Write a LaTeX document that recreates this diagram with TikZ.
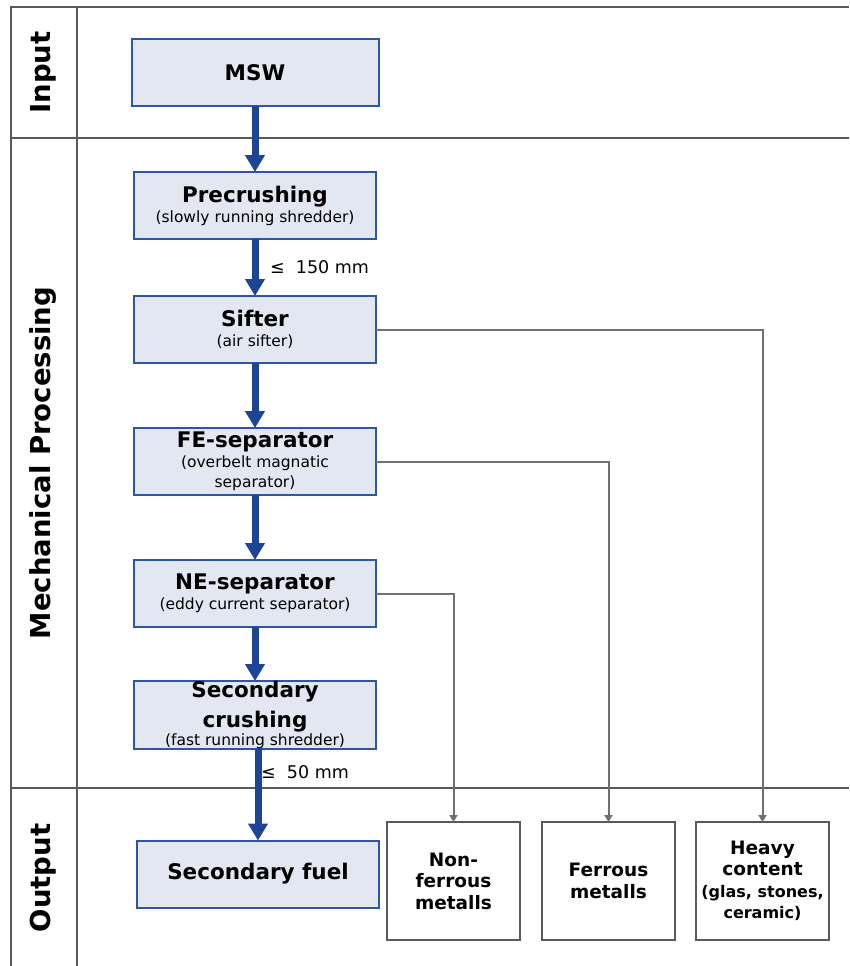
\documentclass[tikz,border=0pt]{standalone}
\usepackage{fontspec}
\setmainfont{DejaVu Sans}
\usetikzlibrary{arrows.meta, positioning, calc}

\definecolor{boxblue}{RGB}{47,85,165}
\definecolor{boxfill}{RGB}{226,231,242}
\definecolor{flowblue}{RGB}{30,68,150}
\definecolor{laneline}{RGB}{90,90,90}
\definecolor{sidegrey}{RGB}{112,112,112}

\newcommand{\stephead}[1]{{\fontsize{21.5}{24}\selectfont\bfseries #1}}
\newcommand{\prodsmall}{\fontsize{16}{20}\selectfont}

\tikzset{
  stage/.style={draw=boxblue, line width=2pt, fill=boxfill, minimum width=242pt,
    minimum height=67pt, inner xsep=1pt, inner ysep=0pt, outer sep=0pt, align=center,
    font=\fontsize{15.5}{20}\selectfont},
  product/.style={draw=laneline, line width=2pt, minimum width=133pt, minimum height=118pt,
    inner sep=2pt, outer sep=0pt, align=center, font=\fontsize{18.5}{21.5}\selectfont\bfseries},
  flow/.style={line width=7pt, draw=flowblue, -{Triangle[width=19pt,length=17pt]}},
  side/.style={line width=2pt, draw=sidegrey, -{Triangle[width=8pt,length=7pt]}},
  lane/.style={line width=2pt, draw=laneline},
  lanename/.style={rotate=90, font=\fontsize{27.5}{30}\selectfont\bfseries},
  sizenote/.style={inner sep=0pt, font=\fontsize{17.5}{19}\selectfont}
}

\begin{document}
\begin{tikzpicture}[x=1pt, y=-1pt]
\useasboundingbox (0,0) rectangle (849,966);

\draw[lane] (11,966) -- (11,7) -- (849,7);
\draw[lane] (77,7) -- (77,966);
\draw[lane] (11,138) -- (849,138);
\draw[lane] (11,788) -- (849,788);

\node[lanename] (lanein) at (43,72.5) {Input};
\node[lanename] (lanemech) at (43,463) {Mechanical Processing};
\node[lanename] (laneout) at (43,878) {Output};

\node[stage, minimum width=247pt] (msw) at (255,72.5) {\stephead{MSW}};
\node[stage, below=66pt of msw] (precrush) {\stephead{Precrushing}\\(slowly running shredder)};
\node[stage, below=57pt of precrush] (sifter) {\stephead{Sifter}\\(air sifter)};
\node[stage, below=65pt of sifter] (fesep) {\stephead{FE-separator}\\(overbelt magnatic\\separator)};
\node[stage, below=65pt of fesep] (nesep) {\stephead{NE-separator}\\(eddy current separator)};
\node[stage, below=54pt of nesep] (crush) {\stephead{Secondary}\\[8pt]\stephead{crushing}\\[-2pt](fast running shredder)};
\node[stage, below=92pt of crush, xshift=3pt] (fuel) {\stephead{Secondary fuel}};

\node[product] (nonfe) at (453.5,881) {Non-\\ferrous\\metalls};
\node[product, right=22pt of nonfe] (ferrous) {Ferrous\\metalls};
\node[product, right=21pt of ferrous] (heavy) {Heavy\\content\\{\prodsmall (glas, stones,}\\{\prodsmall ceramic)}};

\draw[flow] (msw) -- (precrush);
\draw[flow] (precrush) -- (sifter);
\draw[flow] (sifter) -- (fesep);
\draw[flow] (fesep) -- (nesep);
\draw[flow] (nesep) -- (crush);
\draw[flow] (crush.south -| fuel.north) -- (fuel.north);

\node[sizenote, right=15pt] (size150) at ($(precrush.south)!.5!(sifter.north)$) {≤\ \ 150 mm};
\node[sizenote, anchor=west] (size50) at ($(crush.south)+(6,24)$) {≤\ \ 50 mm};

\draw[side] (sifter.east) -| (heavy.north);
\draw[side] (fesep.east) -| (ferrous.north);
\draw[side] (nesep.east) -| (nonfe.north);

\end{tikzpicture}
\end{document}
